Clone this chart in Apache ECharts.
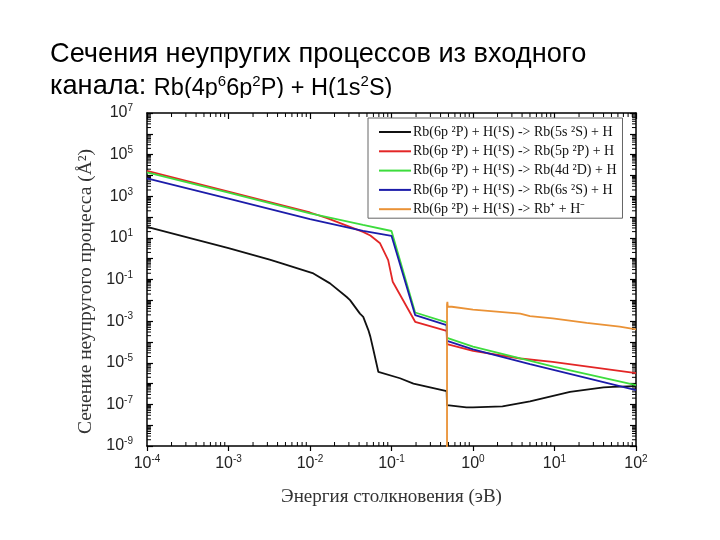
<!DOCTYPE html>
<html>
<head>
<meta charset="utf-8">
<script src="https://cdn.jsdelivr.net/npm/echarts@6/dist/echarts.min.js"></script>
<style>
html, body { margin: 0; padding: 0; background: #fff; }
#main { width: 720px; height: 540px; }
</style>
</head>
<body>
<div id="main"></div>
<script>
// energy (eV) and cross section (A^2), one pair of arrays per channel
var blackE = [1e-4, 1e-3, 0.0032, 0.0043, 0.011, 0.0176, 0.028, 0.031, 0.041, 0.045, 0.052, 0.055, 0.060, 0.069, 0.127, 0.186, 0.475, 0.48, 0.83, 1.0, 2.3, 5.0, 15.5, 40, 52, 100];
var blackS = [34, 3.2, 0.9, 0.63, 0.195, 0.065, 0.0148, 0.0102, 0.0023, 0.0016, 3.7e-4, 1.8e-4, 4.1e-5, 3.6e-6, 1.8e-6, 1.0e-6, 4.3e-7, 9.1e-8, 7.1e-8, 7.2e-8, 8.1e-8, 1.4e-7, 4.0e-7, 6.6e-7, 7.0e-7, 7.5e-7];

var redE = [1e-4, 1e-3, 0.01, 0.0162, 0.0447, 0.055, 0.0724, 0.091, 0.1035, 0.195, 0.475, 0.48, 1.0, 3.8, 9.5, 100];
var redS = [1.66e4, 1660, 166, 89, 19.5, 13, 5.5, 0.85, 0.078, 9.3e-4, 3.4e-4, 7.9e-5, 3.7e-5, 1.6e-5, 1.1e-5, 3.2e-6];

var greenE = [1e-4, 1e-3, 0.01, 0.0447, 0.1, 0.195, 0.475, 0.48, 1.0, 10, 100];
var greenS = [1.41e4, 1480, 151, 41.7, 21.4, 2.6e-3, 8.7e-4, 1.58e-4, 5.9e-5, 6.3e-6, 8.3e-7];

var blueE = [1e-4, 1e-3, 0.01, 0.0447, 0.1, 0.195, 0.475, 0.48, 1.0, 5.0, 10, 100];
var blueS = [7240, 760, 79, 21.9, 12.6, 1.95e-3, 6.5e-4, 1.12e-4, 4.4e-5, 8.5e-6, 4.4e-6, 4.8e-7];

var orangeE = [0.48, 0.48, 0.485, 0.49, 0.55, 1.0, 3.8, 5.0, 9.5, 24.8, 63, 100];
var orangeS = [1e-10, 6.3e-3, 8.5e-3, 5.0e-3, 4.9e-3, 3.6e-3, 2.3e-3, 1.74e-3, 1.35e-3, 8.3e-4, 5.4e-4, 4.0e-4];

var names = [
    'Rb(6p \u00b2P) + H(\u00b9S) -> Rb(5s \u00b2S) + H',
    'Rb(6p \u00b2P) + H(\u00b9S) -> Rb(5p \u00b2P) + H',
    'Rb(6p \u00b2P) + H(\u00b9S) -> Rb(4d \u00b2D) + H',
    'Rb(6p \u00b2P) + H(\u00b9S) -> Rb(6s \u00b2S) + H',
    'Rb(6p \u00b2P) + H(\u00b9S) -> Rb\u207a + H\u207b'
];
var colors = ['#111111', '#e32626', '#3ddc3d', '#1c1caa', '#ea9236'];

var xMin = 1e-4, xMax = 1e2, yMin = 1e-9, yMax = 1e7;
// minor tick multipliers inside each decade
var minorSteps = [2, 3, 4, 5, 6, 7, 8, 9];

function pairs(xs, ys) {
    var out = [];
    for (var i = 0; i < xs.length; i++) out.push([xs[i], ys[i]]);
    return out;
}

var xMinor = [], yMinor = [];
for (var d = -4; d < 2; d++) {
    minorSteps.forEach(function (k) { xMinor.push([k * Math.pow(10, d), yMin]); });
}
for (var d2 = -9; d2 < 7; d2++) {
    minorSteps.forEach(function (k) { yMinor.push([xMin, k * Math.pow(10, d2)]); });
}

function expLabel(value) {
    var e = Math.round(Math.log10(value));
    return '{b|10}{s|' + e + '}';
}

var labelRich = {
    b: { fontSize: 16, fontFamily: 'Liberation Sans', color: '#222', lineHeight: 19 },
    s: { fontSize: 10, fontFamily: 'Liberation Sans', color: '#222', lineHeight: 19, verticalAlign: 'top' }
};

var lineSeries = [];
var sets = [[blackE, blackS], [redE, redS], [greenE, greenS], [blueE, blueS], [orangeE, orangeS]];
for (var i = 0; i < sets.length; i++) {
    lineSeries.push({
        name: names[i],
        type: 'line',
        data: pairs(sets[i][0], sets[i][1]),
        symbol: 'none',
        lineStyle: { color: colors[i], width: 1.8 },
        itemStyle: { color: colors[i] },
        animation: false,
        z: 3 + i
    });
}

lineSeries.push({
    type: 'custom',
    silent: true,
    animation: false,
    data: xMinor,
    renderItem: function (params, api) {
        var p1 = api.coord([api.value(0), yMin]);
        var p2 = api.coord([api.value(0), yMax]);
        return {
            type: 'group',
            children: [
                { type: 'line', shape: { x1: p1[0], y1: p1[1], x2: p1[0], y2: p1[1] - 4 }, style: { stroke: '#000', lineWidth: 1 } },
                { type: 'line', shape: { x1: p2[0], y1: p2[1], x2: p2[0], y2: p2[1] + 4 }, style: { stroke: '#000', lineWidth: 1 } }
            ]
        };
    }
});
lineSeries.push({
    type: 'custom',
    silent: true,
    animation: false,
    data: yMinor,
    renderItem: function (params, api) {
        var p1 = api.coord([xMin, api.value(1)]);
        var p2 = api.coord([xMax, api.value(1)]);
        return {
            type: 'group',
            children: [
                { type: 'line', shape: { x1: p1[0], y1: p1[1], x2: p1[0] + 4, y2: p1[1] }, style: { stroke: '#000', lineWidth: 1 } },
                { type: 'line', shape: { x1: p2[0], y1: p2[1], x2: p2[0] - 4, y2: p2[1] }, style: { stroke: '#000', lineWidth: 1 } }
            ]
        };
    }
});

var option = {
    backgroundColor: '#fff',
    title: {
        left: 45,
        top: 34,
        text: '{t|Сечения неупругих процессов из входного}\n{t|канала: }{r|Rb(4p}{s|6}{r|6p}{s|2}{r|P) + H(1s}{s|2}{r|S)}',
        textStyle: {
            fontWeight: 'normal',
            rich: {
                t: { fontSize: 27.2, fontWeight: 'normal', fontFamily: 'Liberation Sans', color: '#000', lineHeight: 32 },
                r: { fontSize: 23.5, fontWeight: 'normal', fontFamily: 'Liberation Sans', color: '#000', lineHeight: 32, padding: [3, 0, 0, 0] },
                s: { fontSize: 15, fontWeight: 'normal', fontFamily: 'Liberation Sans', color: '#000', lineHeight: 32, verticalAlign: 'top', padding: [3, 0, 0, 0] }
            }
        }
    },
    graphic: [{
        type: 'rect',
        z: 100,
        shape: { x: 135, y: 98, width: 270, height: 12 },
        style: { fill: '#fff' }
    }],
    legend: {
        data: names,
        orient: 'vertical',
        left: 368,
        top: 118,
        icon: 'rect',
        itemWidth: 32,
        itemHeight: 2,
        itemGap: 1.3,
        padding: [5, 6, 0, 11],
        backgroundColor: '#fff',
        borderColor: '#666',
        borderWidth: 1,
        borderRadius: 0,
        textStyle: { fontFamily: 'Liberation Serif', fontSize: 14, lineHeight: 18, color: '#111', padding: [0, 0, 0, -3] }
    },
    grid: {
        left: 147,
        right: 84,
        top: 113,
        bottom: 94,
        containLabel: false,
        outerBoundsMode: 'none'
    },
    xAxis: [{
        type: 'log',
        logBase: 10,
        min: xMin,
        max: xMax,
        interval: 1,
        name: 'Энергия столкновения (эВ)',
        nameLocation: 'middle',
        nameGap: 42,
        nameTextStyle: { fontFamily: 'Liberation Serif', fontSize: 19, color: '#333' },
        axisLine: { show: true, lineStyle: { color: '#000', width: 1.5 } },
        axisTick: { show: true, inside: false, length: 5, lineStyle: { color: '#000', width: 1.2 } },
        axisLabel: { formatter: expLabel, rich: labelRich, margin: 8, showMinLabel: true, showMaxLabel: true },
        splitLine: { show: false },
        minorTick: { show: false }
    }, {
        type: 'log',
        logBase: 10,
        min: xMin,
        max: xMax,
        interval: 1,
        position: 'top',
        axisLine: { show: true, lineStyle: { color: '#000', width: 1.5 } },
        axisTick: { show: true, inside: true, length: 6, lineStyle: { color: '#000', width: 1.2 } },
        axisLabel: { show: false },
        splitLine: { show: false }
    }],
    yAxis: [{
        type: 'log',
        logBase: 10,
        min: yMin,
        max: yMax,
        interval: 1,
        name: 'Сечение неупругого процесса (Å\u00b2)',
        nameLocation: 'middle',
        nameGap: 48,
        nameTextStyle: { fontFamily: 'Liberation Serif', fontSize: 19.5, color: '#333', padding: [0, 24, 0, 0] },
        axisLine: { show: true, lineStyle: { color: '#000', width: 1.5 } },
        axisTick: { show: true, inside: true, length: 6, lineStyle: { color: '#000', width: 1.2 } },
        axisLabel: {
            formatter: function (value) {
                var e = Math.round(Math.log10(value));
                if (e % 2 === 0) return '';
                return expLabel(value);
            },
            rich: labelRich,
            margin: 14,
            showMinLabel: true,
            showMaxLabel: true
        },
        splitLine: { show: false }
    }, {
        type: 'log',
        logBase: 10,
        min: yMin,
        max: yMax,
        interval: 1,
        position: 'right',
        axisLine: { show: true, lineStyle: { color: '#000', width: 1.5 } },
        axisTick: { show: true, inside: true, length: 6, lineStyle: { color: '#000', width: 1.2 } },
        axisLabel: { show: false },
        splitLine: { show: false }
    }],
    series: lineSeries
};

var myChart = echarts.init(document.getElementById('main'));
myChart.setOption(option);
</script>
</body>
</html>
